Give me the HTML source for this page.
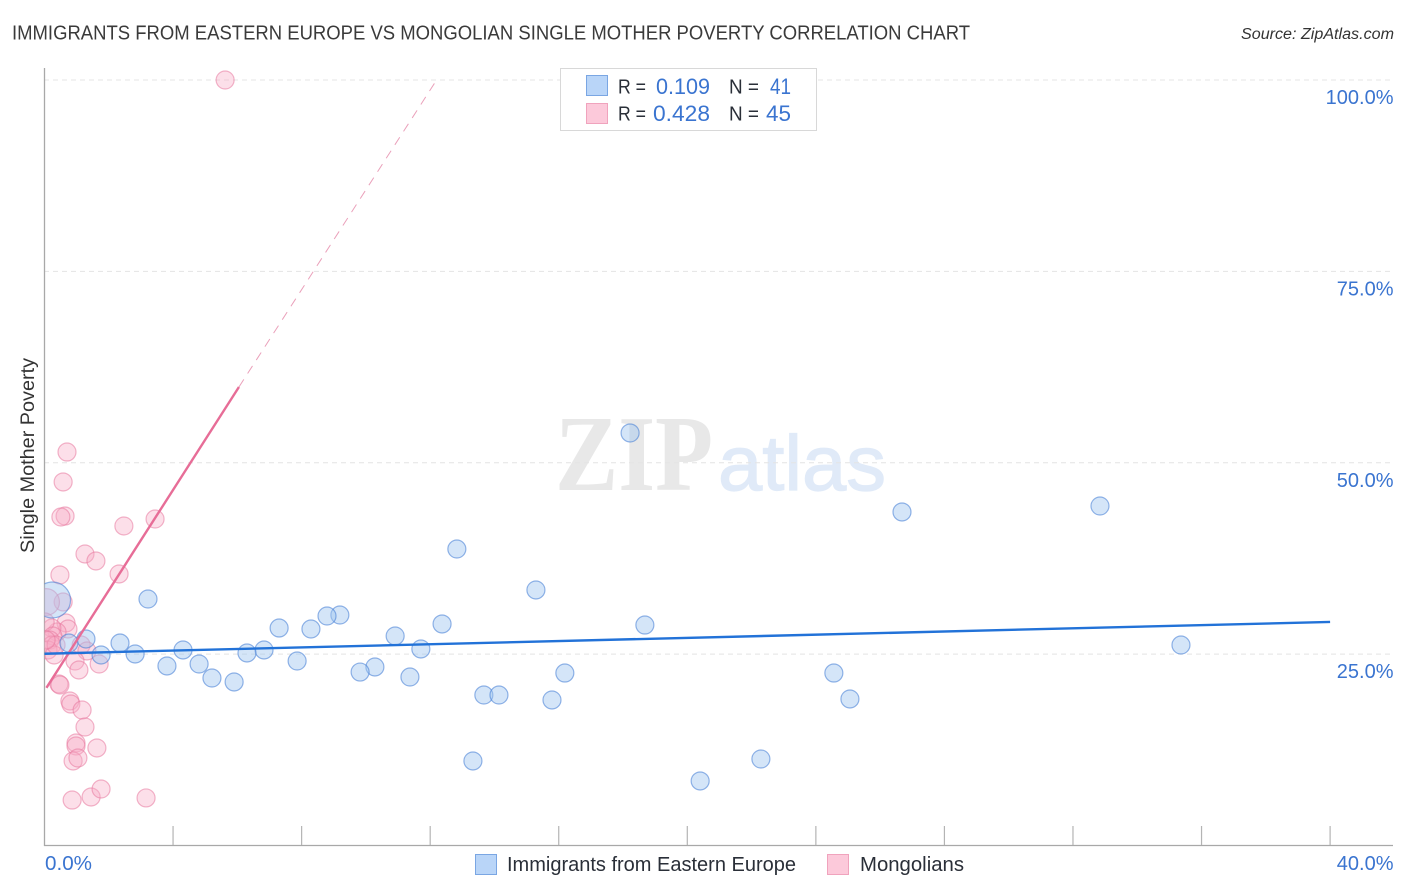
<!DOCTYPE html>
<html lang="en">
<head>
<meta charset="utf-8">
<title>Immigrants from Eastern Europe vs Mongolian Single Mother Poverty Correlation Chart</title>
<style>
html,body{margin:0;padding:0;background:#fff;}
svg{display:block;font-family:"Liberation Sans",sans-serif;}
</style>
</head>
<body>
<svg id="chart" xmlns="http://www.w3.org/2000/svg" width="1406" height="892" viewBox="0 0 1406 892">
  <defs>
    <clipPath id="plotClip"><rect x="44.5" y="60" width="1350" height="786"/></clipPath>
  </defs>
  <text x="12" y="39.5" font-size="20" fill="#3a3a3a" textLength="958" lengthAdjust="spacingAndGlyphs">IMMIGRANTS FROM EASTERN EUROPE VS MONGOLIAN SINGLE MOTHER POVERTY CORRELATION CHART</text>
  <text x="1241" y="39" font-size="15.5" font-style="italic" fill="#333" textLength="153" lengthAdjust="spacingAndGlyphs">Source: ZipAtlas.com</text>
  <g>
    <text x="555" y="490" font-family="'Liberation Serif',serif" font-size="108" font-weight="bold" fill="#e8e8e8" textLength="158" lengthAdjust="spacingAndGlyphs">ZIP</text>
    <text x="718" y="490" font-size="78" fill="#e0eaf8" stroke="#e0eaf8" stroke-width="1.2" textLength="168" lengthAdjust="spacingAndGlyphs">atlas</text>
  </g>
  <g id="grid"></g>
  <g id="axes"></g>
  <g id="pinkDots" clip-path="url(#plotClip)"></g>
  <g id="blueDots" clip-path="url(#plotClip)"></g>
  <g id="lines"></g>
  <text transform="translate(34,553) rotate(-90)" font-size="19" fill="#333" textLength="195" lengthAdjust="spacingAndGlyphs">Single Mother Poverty</text>

  <g>
    <rect x="560.5" y="68.5" width="256" height="62" fill="#fff" stroke="#d8d8d8"/>
    <rect x="586.5" y="75.5" width="21" height="20" fill="#b9d5f8" stroke="#7aa6e3"/>
    <rect x="586.5" y="103.5" width="21" height="20" fill="#fcc9da" stroke="#f0a3bd"/>
    <text x="618" y="93.5" font-size="20" fill="#2a2f38" textLength="28" lengthAdjust="spacingAndGlyphs">R =</text>
    <text x="656" y="94" font-size="22" fill="#3a74d0" textLength="54" lengthAdjust="spacingAndGlyphs">0.109</text>
    <text x="729" y="93.5" font-size="20" fill="#2a2f38" textLength="30" lengthAdjust="spacingAndGlyphs">N =</text>
    <text x="770" y="94" font-size="22" fill="#3a74d0" textLength="21" lengthAdjust="spacingAndGlyphs">41</text>
    <text x="618" y="120.5" font-size="20" fill="#2a2f38" textLength="28" lengthAdjust="spacingAndGlyphs">R =</text>
    <text x="653" y="121" font-size="22" fill="#3a74d0" textLength="57" lengthAdjust="spacingAndGlyphs">0.428</text>
    <text x="729" y="120.5" font-size="20" fill="#2a2f38" textLength="30" lengthAdjust="spacingAndGlyphs">N =</text>
    <text x="766" y="121" font-size="22" fill="#3a74d0" textLength="25" lengthAdjust="spacingAndGlyphs">45</text>
  </g>

  <g>
    <rect x="475.5" y="854.5" width="21" height="20" fill="#b9d5f8" stroke="#7aa6e3"/>
    <text x="507" y="871" font-size="20" fill="#2a2f38" textLength="289" lengthAdjust="spacingAndGlyphs">Immigrants from Eastern Europe</text>
    <rect x="827.5" y="854.5" width="21" height="20" fill="#fcc9da" stroke="#f0a3bd"/>
    <text x="860" y="871" font-size="20" fill="#2a2f38" textLength="104" lengthAdjust="spacingAndGlyphs">Mongolians</text>
  </g>
</svg>
<script>
const yTickValues = [25, 50, 75, 100];
const yTickLabels = ["25.0%", "50.0%", "75.0%", "100.0%"];
const xTickValues = [0, 4, 8, 12, 16, 20, 24, 28, 32, 36, 40];
const xEndLabels = ["0.0%", "40.0%"];

const blueX = [18.22,32.84,26.68,12.83,15.29,3.22,0.25,9.19,8.79,7.30,8.29,12.37,18.68,10.91,1.29,2.35,4.31,6.83,6.30,11.71,2.82,1.76,7.86,4.81,3.81,10.28,9.82,16.19,24.56,11.37,5.21,5.90,13.67,14.14,15.79,25.06,13.33,22.29,20.40,35.36,0.76];
const blueY = [53.89,44.35,43.57,38.73,33.38,32.20,32.07,30.11,29.98,28.41,28.28,28.94,28.80,27.37,26.98,26.45,25.54,25.54,25.15,25.67,25.02,24.89,24.10,23.71,23.45,23.32,22.66,22.53,22.53,22.01,21.88,21.36,19.66,19.66,19.01,19.14,11.04,11.30,8.43,26.19,26.45];
const blueWeight = [1,1,1,1,1,1,4,1,1,1,1,1,1,1,1,1,1,1,1,1,1,1,1,1,1,1,1,1,1,1,1,1,1,1,1,1,1,1,1,1,1];

const pinkX = [5.62,0.70,0.58,0.64,0.51,2.47,3.44,1.26,1.60,2.32,0.48,0.58,0.05,0.67,0.73,0.39,0.23,0.02,0.26,0.17,0.23,0.11,0.30,0.36,1.14,1.32,0.95,1.70,1.07,0.45,0.48,0.79,0.82,1.17,1.26,0.98,0.98,1.63,0.89,1.04,0.86,1.45,1.76,3.16,0.05];
const pinkY = [100,51.40,47.49,43.04,42.91,41.74,42.65,38.08,37.17,35.47,35.34,31.81,31.81,29.07,28.28,27.89,28.41,29.20,27.37,26.84,26.19,25.54,24.89,26.19,26.19,25.41,24.10,23.71,22.93,21.10,20.97,18.88,18.48,17.70,15.48,13.39,13.00,12.74,11.04,11.43,5.94,6.34,7.38,6.21,26.84];
const pinkWeight = [1,1,1,1,1,1,1,1,1,1,1,1,2.2,1,1,1,1,1,1,1,1,1,1,1,1,1,1,1,1,1,1,1,1,1,1,1,1,1,1,1,1,1,1,1,1];

const blueTrendStart = [0, 25.05];
const blueTrendEnd = [40, 29.2];
const pinkTrendSolidStart = [0.06, 20.6];
const pinkTrendSolidEnd = [6.05, 59.9];
const pinkTrendDashEnd = [12.2, 100];

const NS = "http://www.w3.org/2000/svg";
function xScale(v) { return 44.5 + v * 32.14; }
function yScale(v) { return 845.5 - v * 7.655; }
function radius(w) { return 9 * Math.sqrt(w); }

function make(parentId, tag, attrs, text) {
  const el = document.createElementNS(NS, tag);
  for (const k in attrs) el.setAttribute(k, attrs[k]);
  if (text !== undefined) el.textContent = text;
  document.getElementById(parentId).appendChild(el);
  return el;
}

yTickValues.forEach(function (v, i) {
  const g = make("grid", "line", { x1: 44, x2: 1393, y1: yScale(v), y2: yScale(v), stroke: "#e4e4e4", "stroke-width": 1, "stroke-dasharray": "5 4" });
  
  
  const t = make("axes", "text", { x: 1393.5, y: yScale(v) + 24, "text-anchor": "end", "font-size": 20, fill: "#3a74d0" }, yTickLabels[i]);
  
  
});

const yAxisLine = make("axes", "line", { x1: 44.5, x2: 44.5, y1: 68, y2: 846, stroke: "#a8a8a8", "stroke-width": 1.3 });


const xAxisLine = make("axes", "line", { x1: 44, x2: 1393, y1: 845.5, y2: 845.5, stroke: "#a8a8a8", "stroke-width": 1.3 });



xTickValues.slice(1).forEach(function (v) {
  const tick = make("axes", "line", { x1: xScale(v), x2: xScale(v), y1: 826, y2: 845, stroke: "#b4b4b4", "stroke-width": 1.2 });
  
  
});

const xLabelStart = make("axes", "text", { x: xScale(xTickValues[0]) + 0.5, y: 870, "font-size": 20, fill: "#3a74d0", textLength: 47, lengthAdjust: "spacingAndGlyphs" }, xEndLabels[0]);


const xLabelEnd = make("axes", "text", { x: 1393.5, y: 870, "text-anchor": "end", "font-size": 20, fill: "#3a74d0" }, xEndLabels[1]);



pinkX.forEach(function (v, i) {
  const c = make("pinkDots", "circle", { cx: xScale(v), cy: yScale(pinkY[i]), r: radius(pinkWeight[i]), fill: "rgba(248,170,196,0.38)", stroke: "rgba(232,120,158,0.55)", "stroke-width": 1.2 });
  
  
});

blueX.forEach(function (v, i) {
  const c = make("blueDots", "circle", { cx: xScale(v), cy: yScale(blueY[i]), r: radius(blueWeight[i]), fill: "rgba(160,197,240,0.45)", stroke: "rgba(70,128,214,0.58)", "stroke-width": 1.2 });
  
  
});

const pinkDash = make("lines", "line", { x1: xScale(pinkTrendSolidEnd[0]), y1: yScale(pinkTrendSolidEnd[1]), x2: xScale(pinkTrendDashEnd[0]), y2: yScale(pinkTrendDashEnd[1]), stroke: "#eaa0ba", "stroke-width": 1, "stroke-dasharray": "9 7" });


const pinkSolid = make("lines", "line", { x1: xScale(pinkTrendSolidStart[0]), y1: yScale(pinkTrendSolidStart[1]), x2: xScale(pinkTrendSolidEnd[0]), y2: yScale(pinkTrendSolidEnd[1]), stroke: "#e76d97", "stroke-width": 2.4 });


const blueTrend = make("lines", "line", { x1: xScale(blueTrendStart[0]), y1: yScale(blueTrendStart[1]), x2: xScale(blueTrendEnd[0]), y2: yScale(blueTrendEnd[1]), stroke: "#2272d8", "stroke-width": 2.4 });


</script>
</body>
</html>
